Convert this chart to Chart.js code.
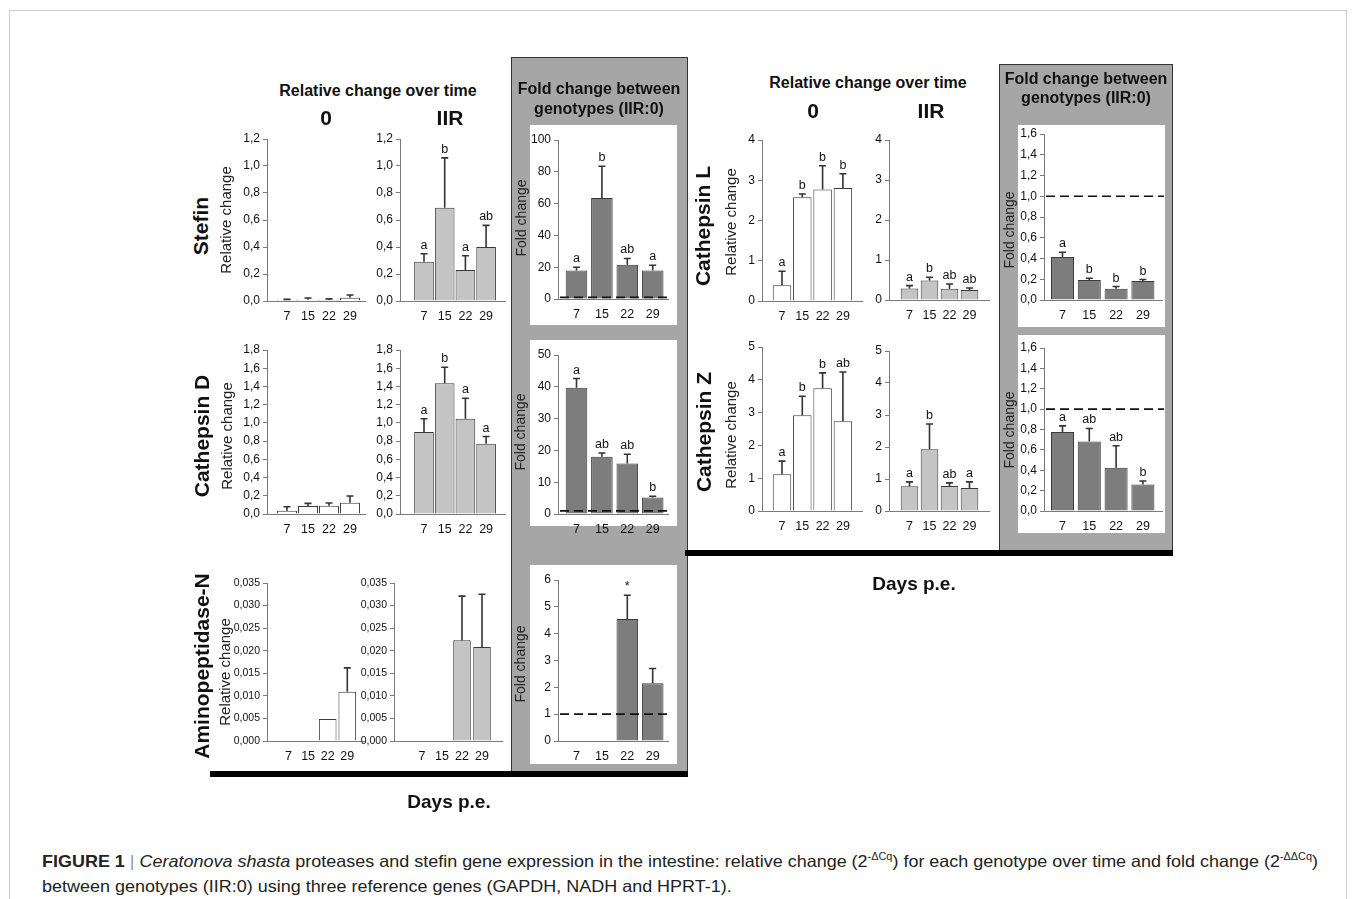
<!DOCTYPE html>
<html><head><meta charset="utf-8">
<script src="https://cdn.jsdelivr.net/npm/chart.js@4/dist/chart.umd.min.js"></script>
<style>
html,body{margin:0;padding:0;background:#fff;}
body{width:1355px;height:899px;position:relative;overflow:hidden;font-family:"Liberation Sans",Arial,sans-serif;color:#111;}
.t{position:absolute;white-space:nowrap;transform:translate(-50%,-50%);line-height:1;}
.r{transform:translate(-50%,-50%) rotate(-90deg);}
.gene{font-weight:bold;font-size:21px;}
.rel{font-size:15px;color:#222;}
.fc{font-size:14px;color:#222;}
.ttl{font-weight:bold;font-size:16px;}
.big{font-weight:bold;font-size:21px;}
.box{position:absolute;box-sizing:border-box;}
canvas{position:absolute;}
.cap{position:absolute;left:42px;white-space:nowrap;font-size:16.5px;color:#222;transform-origin:0 50%;line-height:20px;}
.cap sup{font-size:10px;vertical-align:7px;line-height:0;}
</style></head><body>
<div class="box" style="left:9px;top:10px;width:1338px;height:905px;border:1.5px solid #cdcdcd;"></div>
<div class="box" style="left:511px;top:57px;width:177px;height:716px;background:#a6a6a6;border:1px solid #333;"></div>
<div class="box" style="left:530px;top:125px;width:147px;height:200px;background:#fff;"></div>
<div class="box" style="left:530px;top:340px;width:147px;height:186px;background:#fff;"></div>
<div class="box" style="left:530px;top:565px;width:147px;height:199px;background:#fff;"></div>
<div class="box" style="left:999px;top:64px;width:174px;height:489px;background:#a6a6a6;border:1px solid #333;"></div>
<div class="box" style="left:1018px;top:125px;width:147px;height:202px;background:#fff;"></div>
<div class="box" style="left:1018px;top:335px;width:147px;height:198px;background:#fff;"></div>
<div class="box" style="left:210px;top:771px;width:478px;height:6px;background:#000;"></div>
<div class="box" style="left:685px;top:550px;width:488px;height:6px;background:#000;"></div>
<script>
// ---------- DATA ----------
const days = ['7', '15', '22', '29'];

const stefin0 = [0.010, 0.010, 0.007, 0.025];
const stefin0Top = [0.012, 0.022, 0.016, 0.044];
const stefinIIR = [0.29, 0.69, 0.23, 0.40];
const stefinIIRTop = [0.35, 1.06, 0.335, 0.56];
const stefinIIRLetters = ['a', 'b', 'a', 'ab'];
const stefinFold = [18, 63.5, 21.5, 18];
const stefinFoldTop = [20, 83.5, 25.5, 21.2];
const stefinFoldLetters = ['a', 'b', 'ab', 'a'];

const catD0 = [0.037, 0.088, 0.091, 0.124];
const catD0Top = [0.08, 0.117, 0.12, 0.198];
const catDIIR = [0.90, 1.435, 1.045, 0.77];
const catDIIRTop = [1.045, 1.61, 1.27, 0.85];
const catDIIRLetters = ['a', 'b', 'a', 'a'];
const catDFold = [39.7, 18.0, 15.9, 5.2];
const catDFoldTop = [42.6, 19.2, 18.8, 5.6];
const catDFoldLetters = ['a', 'ab', 'ab', 'b'];

const amino0 = [null, null, 0.0049, 0.0109];
const amino0Top = [null, null, null, 0.0162];
const aminoIIR = [null, null, 0.0223, 0.0208];
const aminoIIRTop = [null, null, 0.0321, 0.0325];
const aminoFold = [null, null, 4.55, 2.15];
const aminoFoldTop = [null, null, 5.43, 2.70];
const aminoFoldLetters = ['', '', '*', ''];

const catL0 = [0.39, 2.58, 2.77, 2.81];
const catL0Top = [0.74, 2.66, 3.36, 3.16];
const catL0Letters = ['a', 'b', 'b', 'b'];
const catLIIR = [0.29, 0.49, 0.28, 0.25];
const catLIIRTop = [0.36, 0.57, 0.40, 0.30];
const catLIIRLetters = ['a', 'b', 'ab', 'ab'];
const catLFold = [0.415, 0.192, 0.108, 0.182];
const catLFoldTop = [0.46, 0.21, 0.13, 0.197];
const catLFoldLetters = ['a', 'b', 'b', 'b'];

const catZ0 = [1.12, 2.92, 3.74, 2.74];
const catZ0Top = [1.52, 3.50, 4.21, 4.24];
const catZ0Letters = ['a', 'b', 'b', 'ab'];
const catZIIR = [0.77, 1.93, 0.78, 0.72];
const catZIIRTop = [0.91, 2.72, 0.88, 0.91];
const catZIIRLetters = ['a', 'b', 'ab', 'a'];
const catZFold = [0.775, 0.683, 0.424, 0.26];
const catZFoldTop = [0.836, 0.81, 0.64, 0.295];
const catZFoldLetters = ['a', 'ab', 'ab', 'b'];

const ticks12 = [0, 0.2, 0.4, 0.6, 0.8, 1.0, 1.2];
const ticks18 = [0, 0.2, 0.4, 0.6, 0.8, 1.0, 1.2, 1.4, 1.6, 1.8];
const ticks035 = [0, 0.005, 0.010, 0.015, 0.020, 0.025, 0.030, 0.035];
const ticksFoldS = [0, 20, 40, 60, 80, 100];
const ticksFoldD = [0, 10, 20, 30, 40, 50];
const ticksFoldA = [0, 1, 2, 3, 4, 5, 6];
const ticks4 = [0, 1, 2, 3, 4];
const ticks5 = [0, 1, 2, 3, 4, 5];
const ticks16 = [0, 0.2, 0.4, 0.6, 0.8, 1.0, 1.2, 1.4, 1.6];
const foldRef = 1;

// ---------- PLUGINS ----------
const FONT = '"Liberation Sans", Arial, sans-serif';
Chart.register({
  id: 'errbars',
  afterDatasetsDraw(chart, args, o) {
    const meta = chart.getDatasetMeta(0), ys = chart.scales.y, ctx = chart.ctx;
    const data = chart.data.datasets[0].data;
    ctx.save();
    ctx.strokeStyle = '#333'; ctx.lineWidth = 1.6; ctx.fillStyle = '#111';
    ctx.font = '12.5px ' + FONT; ctx.textAlign = 'center'; ctx.textBaseline = 'alphabetic';
    meta.data.forEach((bar, i) => {
      if (data[i].y == null) return;
      let ty = bar.y;
      const t = o.tops ? o.tops[i] : null;
      if (t != null) {
        const py = ys.getPixelForValue(t);
        ctx.beginPath();
        ctx.moveTo(bar.x, bar.y); ctx.lineTo(bar.x, py);
        ctx.moveTo(bar.x - 3.5, py); ctx.lineTo(bar.x + 3.5, py);
        ctx.stroke();
        ty = py;
      }
      const l = o.letters ? o.letters[i] : '';
      if (l) ctx.fillText(l, bar.x, ty - 5);
    });
    ctx.restore();
  }
});
Chart.register({
  id: 'refline',
  afterDatasetsDraw(chart, args, o) {
    if (o.value == null) return;
    const y = chart.scales.y.getPixelForValue(o.value), a = chart.chartArea, ctx = chart.ctx;
    ctx.save();
    ctx.setLineDash([9, 5]); ctx.lineWidth = 1.7; ctx.strokeStyle = '#111';
    ctx.beginPath(); ctx.moveTo(a.left + 2, y); ctx.lineTo(a.right + 2, y); ctx.stroke();
    ctx.restore();
  }
});

// ---------- CHART FACTORY ----------
function makeChart(c) {
  const padL = 50, padT = 25, padR = 14, padB = 32;
  const g = c.geo;
  const cv = document.createElement('canvas');
  const W = g.R - g.L + padL + padR, H = c.B - c.T + padT + padB;
  cv.width = W; cv.height = H;
  cv.style.left = (g.L - padL) + 'px'; cv.style.top = (c.T - padT) + 'px';
  document.body.appendChild(cv);
  const xmin = (g.L - g.c0) / g.s, xmax = 3 + (g.R - (g.c0 + 3 * g.s)) / g.s;
  new Chart(cv, {
    type: 'bar',
    data: { datasets: [{
      data: c.values.map((v, i) => ({ x: i, y: v })),
      backgroundColor: c.fill, borderColor: '#3a3a3a', borderWidth: 1,
      barPercentage: c.bp, categoryPercentage: 1
    }] },
    options: {
      responsive: false, animation: false, maintainAspectRatio: false,
      layout: { padding: { top: padT, right: padR, left: 0, bottom: 0 } },
      plugins: { legend: { display: false }, tooltip: { enabled: false },
        errbars: { tops: c.tops, letters: c.letters || [] },
        refline: { value: c.ref } },
      scales: {
        x: { type: 'linear', min: xmin, max: xmax, offset: false,
          afterBuildTicks: s => { s.ticks = days.map((d, i) => ({ value: i })); },
          afterFit: s => { s.height = padB; },
          grid: { display: false, drawTicks: false },
          border: { display: true, color: '#7a7a7a', width: 1 },
          ticks: { callback: (v, i) => days[i], font: { family: FONT, size: 12.5 }, color: '#111', padding: 8, maxRotation: 0, autoSkip: false } },
        y: { min: 0, max: c.yt[c.yt.length - 1],
          afterBuildTicks: s => { s.ticks = c.yt.map(v => ({ value: v })); },
          afterFit: s => { s.width = padL; },
          grid: { drawOnChartArea: false, drawTicks: true, tickLength: 4, color: '#7a7a7a' },
          border: { color: '#7a7a7a', width: 1 },
          ticks: { callback: v => v.toFixed(c.dec).replace('.', ','), font: { family: FONT, size: c.yfs || 12 }, color: '#111', padding: 3, autoSkip: false } }
      }
    }
  });
}

const WHITE = '#ffffff', LIGHT = '#c4c4c4', DARK = '#7d7d7d';
const G0 = { L: 267, R: 365, c0: 287, s: 21 };
const GI = { L: 400, R: 505, c0: 424, s: 20.7 };
const GA0 = { L: 267, R: 365, c0: 288.5, s: 19.6 };
const GAI = { L: 394, R: 502, c0: 422, s: 20 };
const GF = { L: 558, R: 668, c0: 576.5, s: 25.4 };
const R0 = { L: 762, R: 862, c0: 782, s: 20.3 };
const RI = { L: 889, R: 989, c0: 909.5, s: 20 };
const RF = { L: 1044, R: 1162, c0: 1062.5, s: 26.8 };

makeChart({ geo: G0, T: 139, B: 301.5, values: stefin0, tops: stefin0Top, yt: ticks12, dec: 1, fill: WHITE, bp: 0.95 });
makeChart({ geo: GI, T: 139, B: 301.5, values: stefinIIR, tops: stefinIIRTop, letters: stefinIIRLetters, yt: ticks12, dec: 1, fill: LIGHT, bp: 0.95 });
makeChart({ geo: GF, T: 140, B: 299, values: stefinFold, tops: stefinFoldTop, letters: stefinFoldLetters, yt: ticksFoldS, dec: 0, fill: DARK, bp: 0.85, ref: foldRef });

makeChart({ geo: G0, T: 350, B: 514, values: catD0, tops: catD0Top, yt: ticks18, dec: 1, fill: WHITE, bp: 0.95 });
makeChart({ geo: GI, T: 350, B: 514, values: catDIIR, tops: catDIIRTop, letters: catDIIRLetters, yt: ticks18, dec: 1, fill: LIGHT, bp: 0.95 });
makeChart({ geo: GF, T: 355, B: 514, values: catDFold, tops: catDFoldTop, letters: catDFoldLetters, yt: ticksFoldD, dec: 0, fill: DARK, bp: 0.85, ref: foldRef });

makeChart({ geo: GA0, T: 582.5, B: 741, values: amino0, tops: amino0Top, yt: ticks035, dec: 3, fill: WHITE, bp: 0.9, yfs: 10.5 });
makeChart({ geo: GAI, T: 582.5, B: 741, values: aminoIIR, tops: aminoIIRTop, yt: ticks035, dec: 3, fill: LIGHT, bp: 0.88, yfs: 10.5 });
makeChart({ geo: GF, T: 580, B: 741, values: aminoFold, tops: aminoFoldTop, letters: aminoFoldLetters, yt: ticksFoldA, dec: 0, fill: DARK, bp: 0.85, ref: foldRef });

makeChart({ geo: R0, T: 140, B: 301, values: catL0, tops: catL0Top, letters: catL0Letters, yt: ticks4, dec: 0, fill: WHITE, bp: 0.91 });
makeChart({ geo: RI, T: 140, B: 300, values: catLIIR, tops: catLIIRTop, letters: catLIIRLetters, yt: ticks4, dec: 0, fill: LIGHT, bp: 0.88 });
makeChart({ geo: RF, T: 134, B: 300.5, values: catLFold, tops: catLFoldTop, letters: catLFoldLetters, yt: ticks16, dec: 1, fill: DARK, bp: 0.86, ref: foldRef });

makeChart({ geo: R0, T: 347, B: 511, values: catZ0, tops: catZ0Top, letters: catZ0Letters, yt: ticks5, dec: 0, fill: WHITE, bp: 0.91 });
makeChart({ geo: RI, T: 351, B: 511, values: catZIIR, tops: catZIIRTop, letters: catZIIRLetters, yt: ticks5, dec: 0, fill: LIGHT, bp: 0.88 });
makeChart({ geo: RF, T: 348, B: 511, values: catZFold, tops: catZFoldTop, letters: catZFoldLetters, yt: ticks16, dec: 1, fill: DARK, bp: 0.86, ref: foldRef });

// ---------- TEXT ----------
function txt(html, x, y, cls, rot) {
  const d = document.createElement('div');
  d.className = 't ' + cls + (rot ? ' r' : '');
  d.style.left = x + 'px'; d.style.top = y + 'px';
  d.innerHTML = html;
  document.body.appendChild(d);
  return d;
}
txt('Relative change over time', 378, 91, 'ttl');
txt('0', 326, 117, 'big');
txt('IIR', 450, 117, 'big');
txt('Fold change between', 599, 89, 'ttl');
txt('genotypes (IIR:0)', 599, 109, 'ttl');
txt('Relative change over time', 868, 83, 'ttl');
txt('0', 813, 110, 'big');
txt('IIR', 931, 110, 'big');
txt('Fold change between', 1086, 79, 'ttl');
txt('genotypes (IIR:0)', 1086, 98, 'ttl');
txt('Days p.e.', 449, 801, 'big', false).style.fontSize = '19px';
txt('Days p.e.', 914, 583, 'big', false).style.fontSize = '19px';

txt('Stefin', 200, 226, 'gene', true);
txt('Cathepsin D', 201, 436, 'gene', true);
txt('Aminopeptidase-N', 201, 666, 'gene', true);
txt('Cathepsin L', 702, 226, 'gene', true);
txt('Cathepsin Z', 703, 432, 'gene', true);
txt('Relative change', 225, 220, 'rel', true);
txt('Relative change', 226, 436, 'rel', true);
txt('Relative change', 224, 672, 'rel', true);
txt('Relative change', 730, 222, 'rel', true);
txt('Relative change', 730, 435, 'rel', true);
txt('Fold change', 521, 218, 'fc', true);
txt('Fold change', 520, 432, 'fc', true);
txt('Fold change', 520, 664, 'fc', true);
txt('Fold change', 1009, 230, 'fc', true);
txt('Fold change', 1009, 430, 'fc', true);

const c1 = document.createElement('div');
c1.className = 'cap'; c1.style.top = '851px';
c1.innerHTML = '<b>FIGURE 1</b> <span style="color:#999">|</span> <i>Ceratonova shasta</i> proteases and stefin gene expression in the intestine: relative change (2<sup>-ΔCq</sup>) for each genotype over time and fold change (2<sup>-ΔΔCq</sup>)';
document.body.appendChild(c1);
const c2 = document.createElement('div');
c2.className = 'cap'; c2.style.top = '876px';
c2.textContent = 'between genotypes (IIR:0) using three reference genes (GAPDH, NADH and HPRT-1).';
document.body.appendChild(c2);
const sc = 1276 / c1.getBoundingClientRect().width;
c1.style.transform = 'scaleX(' + sc + ')';
c2.style.transform = 'scaleX(' + sc + ')';
</script>
</body></html>
